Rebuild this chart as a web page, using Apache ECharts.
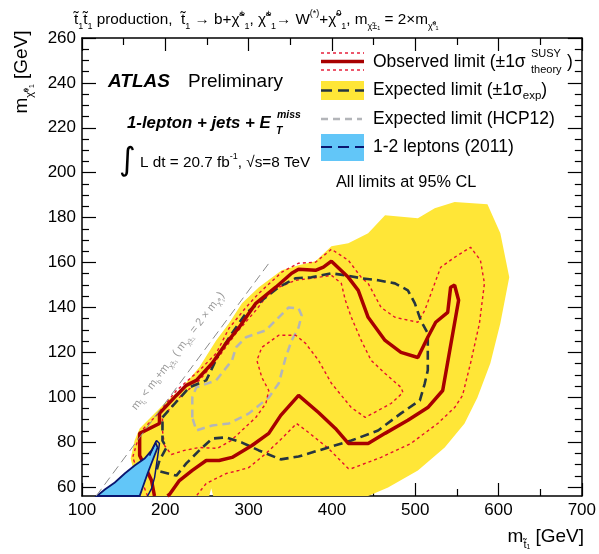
<!DOCTYPE html>
<html>
<head>
<meta charset="utf-8">
<script src="https://cdn.jsdelivr.net/npm/echarts@6/dist/echarts.min.js"></script>
<style>
html, body { margin: 0; padding: 0; background: #fff; }
#main { width: 599px; height: 554px; }
</style>
</head>
<body>
<div id="main"></div>
<script>
// 刻度
var xTicks = [100, 200, 300, 400, 500, 600, 700];
var yMajorTicks = [60, 80, 100, 120, 140, 160, 180, 200, 220, 240, 260];
var yMinorTicks = [];
for (var v = 60; v <= 260; v += 5) {
    if (v % 20 !== 0) yMinorTicks.push(v);
}

// 观测限 (实线)
var observed = [
    [187, 56], [183.5, 62.9], [175.1, 69.6], [169.2, 74], [169.2, 83.9], [193, 88.3], [193, 92.8],
    [213.3, 100.8], [225.2, 105.3], [237.2, 107.5], [256.3, 115.1], [273, 124], [288.5, 131.1],
    [308.7, 141.8], [332.6, 149], [351.7, 155.2], [360, 157], [380.3, 156.5], [389.8, 157.9],
    [399.4, 160.6], [419.7, 153.4], [431.6, 147.6], [443.5, 135.6], [463.8, 125.3], [482.9, 120],
    [503.2, 117.7], [515.1, 126.7], [524.6, 133.4], [539, 137.8], [542.5, 149], [547.3, 149.9],
    [552.1, 143.2], [533, 103], [515.1, 95.4], [491.2, 89.7], [463.8, 83.9], [443.5, 79.4],
    [419.7, 79.4], [404.2, 86.1], [383.9, 93.2], [360, 100.8], [338.6, 91.9], [324.2, 83.9],
    [304, 78.5], [280.1, 73.2], [264.6, 71.8], [249.1, 71.8], [232.4, 67.4], [216.9, 62.9],
    [205, 56.7], [202.6, 56]
];

// 观测限 +1 sigma theory
var observedUp = [
    [178.7, 56], [166.8, 67.4], [160.8, 73.2], [166.8, 80.7], [171.6, 85.2], [189.5, 91.9],
    [213.3, 103], [240.8, 111.9], [261, 119.5], [276.5, 130.7], [296.8, 140], [312.3, 146.3],
    [339.8, 155.7], [360, 159.7], [380.3, 160.1], [399.4, 165.9], [419.7, 161], [435.2, 153.4],
    [443.5, 150.7], [459, 140], [475.7, 135.6], [503.2, 133.4], [511.5, 138.7], [530.6, 157.9],
    [547.3, 162.3], [566.4, 166.8], [578.3, 161], [583.1, 150.7], [577.1, 132.9], [566.4, 115.1],
    [556.8, 100.8], [547.3, 95.4], [527, 88.3], [494.8, 79.4], [459, 73.2], [423.3, 68.2],
    [419.7, 68.2], [395.8, 77.2], [372, 84.3], [357.6, 88.3], [339.8, 81.6], [320.7, 74.9],
    [300.4, 68.7], [288.5, 67.4], [273, 66], [249.1, 61.6], [237.2, 56]
];

// 观测限 -1 sigma theory (闭合)
var observedDown = [
    [199, 78.5], [196.6, 85.2], [196.6, 91], [216.9, 99.9], [240.8, 107.5], [261, 116.4],
    [284.9, 128.5], [308.7, 138.7], [320.7, 144.5], [336.2, 149], [356.5, 152.1], [383.9, 153.4],
    [399.4, 154.3], [411.3, 150.7], [416.1, 143.2], [423.3, 135.6], [435.2, 125.3], [447.1, 116.4],
    [463.8, 110.6], [482.9, 104.4], [485.3, 102.1], [471, 97.2], [440, 91], [423.3, 95.4],
    [399.4, 106.2], [383.9, 116.4], [368.4, 124], [356.5, 127.6], [336.2, 127.6], [315.9, 122.2],
    [309.9, 116.4], [315.9, 108.8], [324.2, 103], [320.7, 97.2], [308.7, 91], [294.5, 86.1],
    [279, 80.7], [262.3, 77.2], [240.8, 77.6], [222.9, 76.3], [207.3, 74.5], [199, 78.5]
];

// 期望限 (虚线, 闭合)
var expected = [
    [196.6, 91], [228.8, 104.4], [249.1, 107.5], [264.6, 119.5], [280.1, 128.5], [296.8, 137.4],
    [320.7, 144.5], [336.2, 149], [356.5, 153], [375.5, 153.4], [399.4, 155.2], [416.1, 154.3],
    [435.2, 153], [455.5, 152.1], [475.7, 150.7], [491.2, 147.6], [499.6, 141.8], [506.7, 134.2],
    [515.1, 128.4], [515.1, 115.1], [515.1, 112], [511.5, 106.2], [505.6, 98.6], [482.9, 92.8],
    [455.5, 85.2], [423.3, 80.7], [395.8, 77.6], [360, 73.6], [338.6, 72.3], [312.3, 76.3],
    [292, 79.8], [273, 82.1], [256.3, 81.6], [240.8, 76.3], [225.2, 70.5], [213.3, 65.1],
    [189.5, 67.4], [193, 71.8], [201.4, 77.6], [196.6, 80.7], [196.6, 91]
];

// 期望限 +-1 sigma 带 (黄色)
var expectedBand = [
    [169.2, 56], [158.4, 72.7], [163.2, 80.7], [169.2, 86.1], [187.1, 92.8], [196.6, 96.3],
    [220.5, 104.4], [240.8, 113.3], [261, 125.3], [276.5, 132.9], [292, 141.8], [312.3, 149],
    [339.8, 156.5], [360, 158.8], [380.3, 160.6], [399.4, 167.2], [419.7, 168.6], [443.5, 173],
    [463.8, 181.1], [503.2, 179.7], [523.4, 184.2], [547.3, 186.9], [586.7, 186], [602.2, 173],
    [612.9, 153.4], [602.2, 132.9], [590.2, 115.1], [574.7, 99.9], [559.2, 88.3], [535.4, 77.6],
    [503.2, 67.4], [467.4, 59.8], [443.5, 56], [257.5, 56], [255.1, 59.5], [252.7, 56]
];

// HCP12 期望限 (灰色)
var hcp12 = [
    [232.4, 91], [232.4, 99.9], [237.2, 104.4], [261, 107.5], [280.1, 116.4], [284.9, 122.2],
    [296.8, 126.7], [320.7, 129.8], [336.2, 135.6], [348.1, 140], [360, 139.6], [363.6, 136.5],
    [360, 131.1], [351.7, 125.3], [344.5, 117.7], [336.2, 106.2], [324.2, 99.9], [300.4, 92.8],
    [276.5, 88.3], [256.3, 87.4], [237.2, 85.2], [232.4, 91]
];

// 1-2 leptons (2011)
var lep2011 = [
    [117.9, 56], [127.4, 58.9], [139.4, 62], [151.3, 66], [163.2, 69.6], [175.1, 72.7],
    [183.5, 76.3], [188.3, 79.8], [190.7, 77.6], [184.7, 71.8], [178.7, 66], [172.8, 59.8],
    [169.2, 56]
];
var lep2011Line = [
    [181.1, 74], [189.5, 80.7], [193, 79.4], [190.7, 73.2], [187.1, 64.2], [183.5, 59.3], [178.7, 56]
];

// 运动学边界 m_t = m_b + 2 m_chi0
var kinLimit = [[117, 56], [325, 160]];

var FONT = 'Liberation Sans, Arial, Helvetica, sans-serif';

function polySeries(name, pts, fill, stroke, width, z) {
    return {
        type: 'custom',
        name: name,
        z: z,
        silent: true,
        data: [[pts[0][0], pts[0][1]]],
        renderItem: function (params, api) {
            var points = pts.map(function (p) { return api.coord(p); });
            return {
                type: 'polygon',
                shape: { points: points },
                style: { fill: fill, stroke: stroke, lineWidth: width }
            };
        }
    };
}

function lineSeries(name, pts, color, width, type, z) {
    return {
        type: 'line',
        name: name,
        z: z,
        data: pts,
        showSymbol: false,
        symbol: 'none',
        silent: true,
        lineStyle: { color: color, width: width, type: type }
    };
}

var chart = echarts.init(document.getElementById('main'));

var axisLineStyle = { color: '#000', width: 1.5 };
var tickStyle = { color: '#000', width: 1.2 };

var option = {
    animation: false,
    backgroundColor: '#fff',
    grid: { left: 82, right: 14, top: 38, bottom: 58 },
    xAxis: [{
        type: 'value', min: 100, max: 700, interval: 100, position: 'bottom',
        axisLine: { show: true, onZero: false, lineStyle: axisLineStyle },
        axisTick: { inside: true, length: 13, lineStyle: tickStyle },
        minorTick: { show: true, splitNumber: 2, length: 7, lineStyle: tickStyle },
        axisLabel: { fontSize: 17, color: '#000', margin: 6, fontFamily: FONT },
        splitLine: { show: false }
    }, {
        type: 'value', min: 100, max: 700, interval: 100, position: 'top',
        axisLine: { show: true, onZero: false, lineStyle: axisLineStyle },
        axisTick: { inside: true, length: 13, lineStyle: tickStyle },
        minorTick: { show: true, splitNumber: 2, length: 7, lineStyle: tickStyle },
        axisLabel: { show: false },
        splitLine: { show: false }
    }],
    yAxis: [{
        type: 'value', min: 56, max: 260, position: 'left',
        axisLine: { show: true, onZero: false, lineStyle: axisLineStyle },
        axisTick: { inside: true, length: 14, customValues: yMajorTicks, lineStyle: tickStyle },
        axisLabel: { fontSize: 17, color: '#000', margin: 6, fontFamily: FONT, customValues: yMajorTicks },
        splitLine: { show: false }
    }, {
        type: 'value', min: 56, max: 260, position: 'left',
        axisLine: { show: false },
        axisTick: { inside: true, length: 7, customValues: yMinorTicks, lineStyle: tickStyle },
        axisLabel: { show: false },
        splitLine: { show: false }
    }, {
        type: 'value', min: 56, max: 260, position: 'right',
        axisLine: { show: true, onZero: false, lineStyle: axisLineStyle },
        axisTick: { inside: true, length: 14, customValues: yMajorTicks, lineStyle: tickStyle },
        axisLabel: { show: false },
        splitLine: { show: false }
    }, {
        type: 'value', min: 56, max: 260, position: 'right',
        axisLine: { show: false },
        axisTick: { inside: true, length: 7, customValues: yMinorTicks, lineStyle: tickStyle },
        axisLabel: { show: false },
        splitLine: { show: false }
    }],
    series: [
        polySeries('expBand', expectedBand, '#ffe637', null, 0, 1),
        lineSeries('hcp12', hcp12, '#b3b5b9', 2.5, [8, 5], 2),
        lineSeries('obsUp', observedUp, '#e5102e', 1.4, [3, 3], 3),
        lineSeries('obsDown', observedDown, '#e5102e', 1.4, [3, 3], 3),
        lineSeries('expected', expected, '#263540', 2.6, [9, 5], 4),
        lineSeries('observed', observed, '#a80000', 3.5, 'solid', 5),
        polySeries('lep2011', lep2011, '#62c6f8', '#0a1670', 1.8, 6),
        lineSeries('lep2011Line', lep2011Line, '#0a1670', 1.5, 'solid', 7),
        lineSeries('kin', kinLimit, '#8a8a8a', 1, [9, 5], 7)
    ],
    graphic: [
        // 标题
        {
            type: 'text', x: 74, y: 20,
            style: {
                text: '{m|t̃}{b|1}{m|t̃}{b|1}{m| production,  t̃}{b|1}{m| → b+χ̃}{t|±}{b|1}{m|, χ̃}{t|±}{b|1}{m|→ W}{t|(*)}{m|+χ̃}{t|0}{b|1}{m|, m}{b|χ̃±₁}{m| = 2×m}{b|χ̃⁰₁}',
                textVerticalAlign: 'middle', fill: '#000',
                rich: {
                    m: { fontSize: 15.3, fontFamily: FONT, lineHeight: 22, fill: '#000' },
                    b: { fontSize: 9, fontFamily: FONT, lineHeight: 10, verticalAlign: 'bottom', fill: '#000' },
                    t: { fontSize: 9, fontFamily: FONT, lineHeight: 10, verticalAlign: 'top', fill: '#000' }
                }
            }
        },
        // y 轴标题
        {
            type: 'text', x: 22, y: 72, rotation: Math.PI / 2,
            style: {
                text: '{a|m}{s|χ̃⁰₁}{a| [GeV]}',
                textAlign: 'center', textVerticalAlign: 'middle',
                rich: {
                    a: { fontSize: 19, fontFamily: FONT, lineHeight: 26, fill: '#000' },
                    s: { fontSize: 11, fontFamily: FONT, lineHeight: 12, verticalAlign: 'bottom', fill: '#000' }
                }
            }
        },
        // x 轴标题
        {
            type: 'text', x: 584, y: 537,
            style: {
                text: '{a|m}{s|t̃₁}{a| [GeV]}',
                textAlign: 'right', textVerticalAlign: 'middle',
                rich: {
                    a: { fontSize: 19, fontFamily: FONT, lineHeight: 26, fill: '#000' },
                    s: { fontSize: 11, fontFamily: FONT, lineHeight: 12, verticalAlign: 'bottom', fill: '#000' }
                }
            }
        },
        // ATLAS Preliminary
        {
            type: 'text', x: 108, y: 82,
            style: { text: 'ATLAS', font: 'italic bold 19px ' + FONT, fill: '#000', textVerticalAlign: 'middle' }
        },
        {
            type: 'text', x: 188, y: 82,
            style: { text: 'Preliminary', font: '19px ' + FONT, fill: '#000', textVerticalAlign: 'middle' }
        },
        {
            type: 'text', x: 127, y: 123,
            style: { text: '1-lepton + jets + E', font: 'italic bold 16.8px ' + FONT, fill: '#000', textVerticalAlign: 'middle' }
        },
        {
            type: 'text', x: 277, y: 115,
            style: { text: 'miss', font: 'italic bold 10.5px ' + FONT, fill: '#000', textVerticalAlign: 'middle' }
        },
        {
            type: 'text', x: 276, y: 131,
            style: { text: 'T', font: 'italic bold 10.5px ' + FONT, fill: '#000', textVerticalAlign: 'middle' }
        },
        {
            type: 'text', x: 119, y: 162,
            style: { text: '∫', font: '32px DejaVu Sans, ' + FONT, fill: '#000', textVerticalAlign: 'middle' }
        },
        {
            type: 'text', x: 140, y: 163,
            style: {
                text: '{a|L dt = 20.7 fb}{s|-1}{a|, √s=8 TeV}',
                textVerticalAlign: 'middle',
                rich: {
                    a: { fontSize: 15.3, fontFamily: FONT, lineHeight: 22, fill: '#000' },
                    s: { fontSize: 9, fontFamily: FONT, lineHeight: 10, verticalAlign: 'top', fill: '#000' }
                }
            }
        },
        // 斜线注释
        {
            type: 'text', x: 178, y: 351, rotation: 0.918,
            style: {
                text: '{a|m}{s|t̃₁}{a| < m}{s|b}{a|+m}{s|χ̃±₁}{a| ( m}{s|χ̃±₁}{a| = 2 × m}{s|χ̃⁰₁}{a|)}',
                textAlign: 'center', textVerticalAlign: 'middle',
                rich: {
                    a: { fontSize: 11, fontFamily: FONT, lineHeight: 15, fill: '#999' },
                    s: { fontSize: 7, fontFamily: FONT, lineHeight: 8, verticalAlign: 'bottom', fill: '#999' }
                }
            }
        },
        // 图例
        { type: 'line', shape: { x1: 321, y1: 53, x2: 364, y2: 53 }, style: { stroke: '#e5102e', lineWidth: 1.4, lineDash: [3, 3] } },
        { type: 'line', shape: { x1: 321, y1: 61.5, x2: 364, y2: 61.5 }, style: { stroke: '#a80000', lineWidth: 3.5 } },
        { type: 'line', shape: { x1: 321, y1: 70, x2: 364, y2: 70 }, style: { stroke: '#e5102e', lineWidth: 1.4, lineDash: [3, 3] } },
        { type: 'text', x: 373, y: 62, style: { text: 'Observed limit (±1σ', font: '17.5px ' + FONT, fill: '#000', textVerticalAlign: 'middle' } },
        { type: 'text', x: 531, y: 54, style: { text: 'SUSY', font: '11px ' + FONT, fill: '#000', textVerticalAlign: 'middle' } },
        { type: 'text', x: 531, y: 70, style: { text: 'theory', font: '11px ' + FONT, fill: '#000', textVerticalAlign: 'middle' } },
        { type: 'text', x: 567, y: 62, style: { text: ')', font: '17.5px ' + FONT, fill: '#000', textVerticalAlign: 'middle' } },

        { type: 'rect', shape: { x: 321, y: 81, width: 43, height: 19 }, style: { fill: '#ffe637' } },
        { type: 'line', shape: { x1: 321, y1: 90.5, x2: 364, y2: 90.5 }, style: { stroke: '#263540', lineWidth: 2.6, lineDash: [11, 6] } },
        {
            type: 'text', x: 373, y: 90,
            style: {
                text: '{a|Expected limit (±1σ}{s|exp}{a|)}', textVerticalAlign: 'middle',
                rich: {
                    a: { fontSize: 17.5, fontFamily: FONT, lineHeight: 24, fill: '#000' },
                    s: { fontSize: 11.5, fontFamily: FONT, lineHeight: 12, verticalAlign: 'bottom', fill: '#000' }
                }
            }
        },

        { type: 'line', shape: { x1: 321, y1: 119, x2: 362, y2: 119 }, style: { stroke: '#b3b5b9', lineWidth: 2.5, lineDash: [7, 5] } },
        { type: 'text', x: 373, y: 119, style: { text: 'Expected limit (HCP12)', font: '17.5px ' + FONT, fill: '#000', textVerticalAlign: 'middle' } },

        { type: 'rect', shape: { x: 321, y: 134, width: 43, height: 27 }, style: { fill: '#62c6f8' } },
        { type: 'line', shape: { x1: 321, y1: 147, x2: 364, y2: 147 }, style: { stroke: '#0a1670', lineWidth: 2, lineDash: [11, 6] } },
        { type: 'text', x: 373, y: 147, style: { text: '1-2 leptons (2011)', font: '17.5px ' + FONT, fill: '#000', textVerticalAlign: 'middle' } },

        { type: 'text', x: 336, y: 183, style: { text: 'All limits at 95% CL', font: '16.3px ' + FONT, fill: '#000', textVerticalAlign: 'middle' } }
    ]
};

if (option && typeof option === "object") {
    chart.setOption(option);
}
</script>
</body>
</html>
